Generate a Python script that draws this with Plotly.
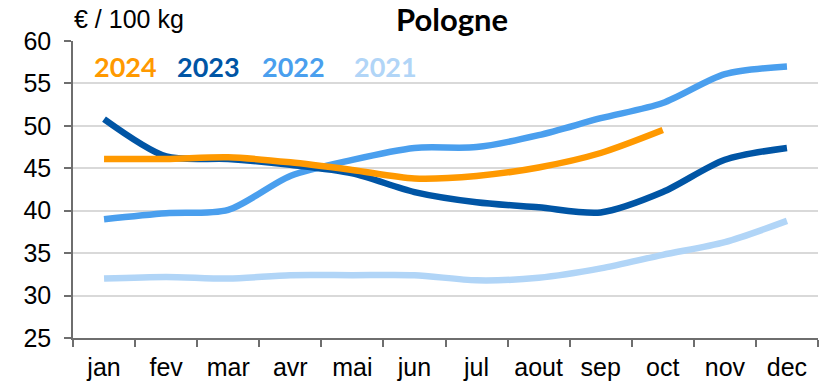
import plotly.graph_objects as go

months = ["jan", "fev", "mar", "avr", "mai", "jun", "jul", "aout", "sep", "oct", "nov", "dec"]

prix_2024 = [46.1, 46.1, 46.3, 45.7, 44.8, 43.8, 44.1, 45.1, 46.8, 49.5]
prix_2023 = [50.8, 46.4, 46.1, 45.4, 44.4, 42.2, 41.0, 40.4, 39.8, 42.2, 46.0, 47.4]
prix_2022 = [39.0, 39.7, 40.1, 44.1, 46.0, 47.4, 47.5, 48.9, 50.9, 52.7, 56.1, 57.0]
prix_2021 = [32.0, 32.2, 32.0, 32.4, 32.4, 32.4, 31.8, 32.1, 33.2, 34.8, 36.3, 38.8]

series = [
    ("2021", prix_2021, "#B1D5F7"),
    ("2022", prix_2022, "#4A9FEE"),
    ("2023", prix_2023, "#0055A5"),
    ("2024", prix_2024, "#FF9900"),
]

fig = go.Figure()
for name, vals, color in series:
    fig.add_trace(go.Scatter(
        x=months[:len(vals)], y=vals, name=name, mode="lines",
        line=dict(color=color, width=6.5, shape="spline", smoothing=0.8),
        showlegend=False,
    ))

# Coloured year labels act as the legend
legend_items = [("2024", "#FF9900", 0.025), ("2023", "#0055A5", 0.137),
                ("2022", "#4A9FEE", 0.251), ("2021", "#B1D5F7", 0.374)]
for text, color, xpos in legend_items:
    fig.add_annotation(
        text=f"<b>{text}</b>", x=xpos, y=57.0, xref="paper", yref="y",
        xanchor="left", yanchor="middle", showarrow=False,
        font=dict(family="Lato, Open Sans, sans-serif", size=27, color=color),
    )

# Unit label above the y axis
fig.add_annotation(
    text="€ / 100 kg", x=-0.002, y=1.074, xref="paper", yref="paper",
    xanchor="left", yanchor="middle", showarrow=False,
    font=dict(family="Liberation Sans, Arial, sans-serif", size=25, color="#000000"),
)

fig.update_layout(
    width=825, height=388,
    margin=dict(l=73, r=7, t=41, b=50),
    paper_bgcolor="white", plot_bgcolor="white",
    title=dict(
        text="<b>Pologne</b>", x=0.548, xanchor="center", y=0.948, yanchor="middle",
        font=dict(family="Lato, Open Sans, sans-serif", size=31, color="#000000"),
    ),
    font=dict(family="Liberation Sans, Arial, sans-serif", size=25, color="#000000"),
)

fig.update_xaxes(
    type="category", categoryorder="array", categoryarray=months,
    range=[-0.5, 11.5], tickson="boundaries",
    ticks="outside", ticklen=7, tickcolor="#6E6E6E", tickwidth=1.5,
    showline=True, linecolor="#6E6E6E", linewidth=1.5,
    showgrid=False, tickfont=dict(size=25), ticklabelstandoff=6,
)
fig.update_yaxes(
    range=[25, 60], dtick=5, tick0=25,
    ticks="outside", ticklen=7, tickcolor="#6E6E6E", tickwidth=1.5,
    showline=True, linecolor="#6E6E6E", linewidth=1.5,
    showgrid=True, gridcolor="#D9D9D9", gridwidth=1.5,
    zeroline=False, tickfont=dict(size=25), ticklabelstandoff=8,
)

fig.write_html("out.html")
